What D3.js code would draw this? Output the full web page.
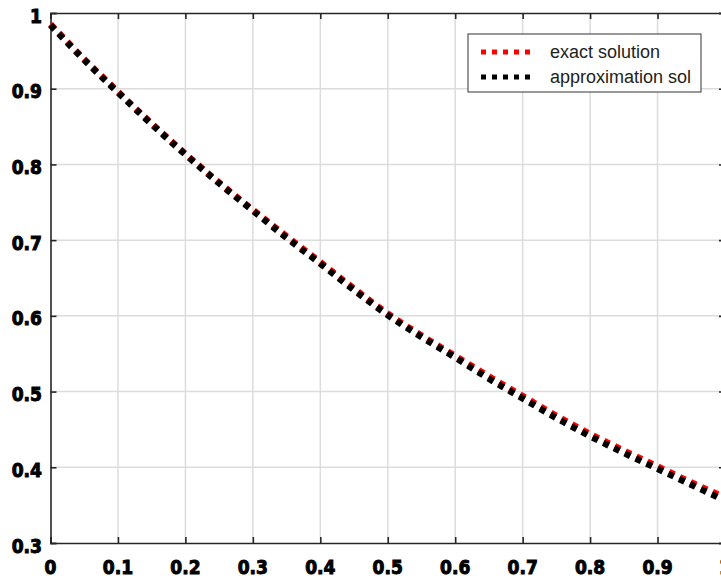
<!DOCTYPE html>
<html>
<head>
<meta charset="utf-8">
<script src="https://cdn.jsdelivr.net/npm/d3@7"></script>
<style>
  html, body { margin: 0; padding: 0; background: #fff; }
  svg { display: block; }
  .tick-label { font-family: "DejaVu Sans Condensed", "DejaVu Sans", sans-serif; font-weight: bold; font-stretch: condensed; font-size: 19px; fill: #000; stroke: #000; stroke-width: 0.9px; }
  .legend-text { font-family: "Liberation Sans", Arial, sans-serif; font-size: 18px; fill: #222; }
</style>
</head>
<body>
<div id="chart"></div>
<script>
// values
const xValues = [0, 0.05, 0.1, 0.15, 0.2, 0.25, 0.3, 0.35, 0.4, 0.45, 0.5,
                 0.55, 0.6, 0.65, 0.7, 0.75, 0.8, 0.85, 0.9, 0.95, 1.0];
const exactValues = [0.985, 0.939, 0.896, 0.854, 0.814, 0.776, 0.740, 0.705, 0.671, 0.636, 0.603,
                     0.574, 0.547, 0.520, 0.494, 0.468, 0.444, 0.422, 0.401, 0.380, 0.360];
const approxValues = [0.984, 0.938, 0.895, 0.853, 0.813, 0.775, 0.739, 0.703, 0.669, 0.634, 0.601,
                      0.572, 0.545, 0.517, 0.491, 0.465, 0.441, 0.419, 0.398, 0.377, 0.356];
const xTicks = [0, 0.1, 0.2, 0.3, 0.4, 0.5, 0.6, 0.7, 0.8, 0.9, 1];
const yTicks = [0.3, 0.4, 0.5, 0.6, 0.7, 0.8, 0.9, 1];
const seriesNames = ['exact solution', 'approximation sol'];
const seriesColors = ['#ff0000', '#000000'];

const width = 721, height = 582;
const plot = { left: 50.5, right: 725, top: 13, bottom: 543 };

const svg = d3.select('#chart').append('svg')
    .attr('width', width)
    .attr('height', height);

const x = d3.scaleLinear().domain([0, 1]).range([plot.left, plot.right]);
const y = d3.scaleLinear().domain([0.3, 1]).range([plot.bottom, plot.top]);

// grid
svg.append('g')
    .selectAll('line')
    .data(xTicks.slice(1, -1))
    .join('line')
    .attr('x1', d => x(d)).attr('x2', d => x(d))
    .attr('y1', plot.top).attr('y2', plot.bottom)
    .attr('stroke', '#dcdcdc').attr('stroke-width', 1.5);

svg.append('g')
    .selectAll('line')
    .data(yTicks.slice(1, -1))
    .join('line')
    .attr('x1', plot.left).attr('x2', plot.right)
    .attr('y1', d => y(d)).attr('y2', d => y(d))
    .attr('stroke', '#dcdcdc').attr('stroke-width', 1.5);

// axes (box with inward ticks)
const axisColor = '#262626';
svg.append('g')
    .attr('transform', `translate(0,${plot.bottom})`)
    .call(d3.axisBottom(x).tickValues(xTicks).tickSize(-6).tickFormat(''))
    .call(g => g.selectAll('line, path').attr('stroke', axisColor).attr('stroke-width', 1.6));
svg.append('g')
    .attr('transform', `translate(0,${plot.top})`)
    .call(d3.axisTop(x).tickValues(xTicks).tickSize(-6).tickFormat(''))
    .call(g => g.selectAll('line, path').attr('stroke', axisColor).attr('stroke-width', 1.6));
svg.append('g')
    .attr('transform', `translate(${plot.left},0)`)
    .call(d3.axisLeft(y).tickValues(yTicks).tickSize(-6).tickFormat(''))
    .call(g => g.selectAll('line, path').attr('stroke', axisColor).attr('stroke-width', 1.6));
svg.append('g')
    .attr('transform', `translate(${plot.right},0)`)
    .call(d3.axisRight(y).tickValues(yTicks).tickSize(-6).tickFormat(''))
    .call(g => g.selectAll('line, path').attr('stroke', axisColor).attr('stroke-width', 1.6));

// tick labels
const fmt = d => (d === 0 || d === 1) ? String(d) : d3.format('.1f')(d);
svg.append('g')
    .selectAll('text')
    .data(xTicks)
    .join('text')
    .attr('class', 'tick-label')
    .attr('x', d => x(d))
    .attr('y', 574)
    .attr('text-anchor', 'middle')
    .text(fmt);
svg.append('g')
    .selectAll('text')
    .data(yTicks)
    .join('text')
    .attr('class', 'tick-label')
    .attr('x', 42)
    .attr('y', d => y(d) + 9.5)
    .attr('text-anchor', 'end')
    .text(fmt);

// curves
const line = d3.line()
    .x(d => x(d[0]))
    .y(d => y(d[1]))
    .curve(d3.curveMonotoneX);

[exactValues, approxValues].forEach((vals, i) => {
    svg.append('path')
        .datum(xValues.map((xv, j) => [xv, vals[j]]))
        .attr('d', line)
        .attr('fill', 'none')
        .attr('stroke', seriesColors[i])
        .attr('stroke-width', 6.5)
        .attr('stroke-dasharray', '6 6');
});

// legend
const legend = svg.append('g').attr('transform', 'translate(468,34)');
legend.append('rect')
    .attr('width', 233).attr('height', 58)
    .attr('fill', '#fff')
    .attr('stroke', '#333').attr('stroke-width', 1);

seriesNames.forEach((name, i) => {
    const ly = 18 + i * 25;
    legend.append('line')
        .attr('x1', 13).attr('x2', 68)
        .attr('y1', ly).attr('y2', ly)
        .attr('stroke', seriesColors[i])
        .attr('stroke-width', 5)
        .attr('stroke-dasharray', '5 6');
    legend.append('text')
        .attr('class', 'legend-text')
        .attr('x', 82)
        .attr('y', ly + 6)
        .text(name);
});
</script>
</body>
</html>
